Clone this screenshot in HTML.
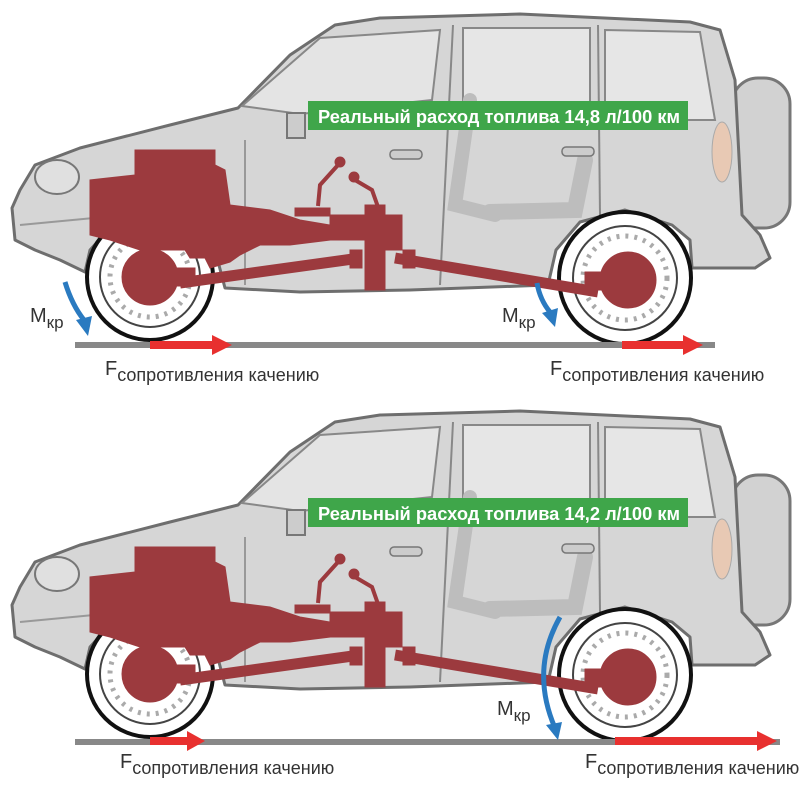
<!DOCTYPE html>
<html><head><meta charset="utf-8"><style>
body{margin:0;background:#fff}
svg{display:block}
.lbl{font-family:"Liberation Sans Narrow","Liberation Sans",sans-serif;fill:#333}
.gt{font-family:"Liberation Sans Narrow","Liberation Sans",sans-serif;font-weight:bold;fill:#fff;font-size:18px}
</style></head><body>
<svg width="810" height="790" viewBox="0 0 810 790" xmlns="http://www.w3.org/2000/svg">
<defs>
<g id="car">
 <rect x="732" y="78" width="58" height="150" rx="26" fill="#d2d2d2" stroke="#777" stroke-width="3"/>
 <path d="M12,208 L20,190 L35,165 L80,148 L170,125 L238,108 L290,55 L335,25 L380,18 L520,14 L690,22 L720,30 L735,80 L742,215 L760,235 L770,258 L755,268 L692,268 L690,240 L672,225 L625,210 L580,222 L556,250 L548,285 L410,290 L300,292 L225,288 L215,250 L195,228 L150,218 L110,228 L90,250 L85,272 L60,260 L35,250 L15,240 Z" fill="#d6d6d6" stroke="#6e6e6e" stroke-width="3" stroke-linejoin="round"/>
 <path d="M242,106 L320,38 L440,30 L432,100 L300,114 Z" fill="#e4e4e4" stroke="#888" stroke-width="2"/>
 <path d="M463,28 L590,28 L590,120 L463,128 Z" fill="#e6e6e6" stroke="#888" stroke-width="2"/>
 <path d="M605,30 L700,32 L715,120 L605,120 Z" fill="#e6e6e6" stroke="#888" stroke-width="2"/>
 <line x1="453" y1="25" x2="440" y2="285" stroke="#888" stroke-width="2"/>
 <line x1="598" y1="25" x2="600" y2="215" stroke="#888" stroke-width="2"/>
 <line x1="245" y1="140" x2="245" y2="285" stroke="#999" stroke-width="2"/>
 <path d="M20,225 L230,205" stroke="#999" stroke-width="2" fill="none"/>
 <path d="M470,100 L455,205 L495,215" stroke="#bdbdbd" stroke-width="14" fill="none" stroke-linecap="round"/>
 <path d="M585,160 L575,210 L490,212" stroke="#bdbdbd" stroke-width="16" fill="none" stroke-linecap="round"/>
 <ellipse cx="57" cy="177" rx="22" ry="17" fill="#e0e0e0" stroke="#777" stroke-width="2"/>
 <ellipse cx="722" cy="152" rx="10" ry="30" fill="#e8c9b4" stroke="#aaa"/>
 <rect x="287" y="113" width="18" height="25" fill="#ccc" stroke="#777" stroke-width="2"/>
 <rect x="390" y="150" width="32" height="9" rx="4" fill="#ccc" stroke="#777" stroke-width="1.5"/>
 <rect x="562" y="147" width="32" height="9" rx="4" fill="#ccc" stroke="#777" stroke-width="1.5"/>
 <circle cx="150" cy="277" r="63" fill="#fff" stroke="#111" stroke-width="4"/>
 <circle cx="150" cy="277" r="50" fill="#fff" stroke="#444" stroke-width="2"/>
 <circle cx="150" cy="277" r="40" fill="none" stroke="#aaa" stroke-width="5" stroke-dasharray="3 6"/>
 <circle cx="625" cy="278" r="66" fill="#fff" stroke="#111" stroke-width="4"/>
 <circle cx="625" cy="278" r="52" fill="#fff" stroke="#444" stroke-width="2"/>
 <circle cx="625" cy="278" r="42" fill="none" stroke="#aaa" stroke-width="5" stroke-dasharray="3 6"/>
 <g fill="#9c3a3e" stroke="#9c3a3e">
  <path d="M135,150 L215,150 L215,165 L225,170 L230,205 L270,210 L300,220 L330,225 L330,240 L290,245 L260,245 L240,255 L230,262 L210,268 L205,258 L190,258 L185,250 L140,250 L125,245 L110,240 L90,235 L90,180 L135,175 Z"/>
  <rect x="295" y="208" width="35" height="8"/>
  <rect x="330" y="215" width="40" height="25"/>
  <rect x="365" y="205" width="20" height="85"/>
  <rect x="380" y="215" width="22" height="35"/>
  <path d="M318,206 L320,185 L338,165" fill="none" stroke-width="4"/>
  <circle cx="340" cy="162" r="5"/>
  <path d="M378,207 L372,190 L355,180" fill="none" stroke-width="4"/>
  <circle cx="354" cy="177" r="5"/>
  <path d="M360,258 L180,283" stroke-width="11"/>
  <path d="M395,258 L598,292" stroke-width="11"/>
  <rect x="350" y="250" width="12" height="18"/>
  <rect x="403" y="250" width="12" height="18"/>
  <circle cx="150" cy="277" r="28"/>
  <rect x="165" y="268" width="30" height="18"/>
  <circle cx="628" cy="280" r="28"/>
  <rect x="585" y="272" width="30" height="18"/>
 </g>
 <rect x="75" y="342" width="640" height="6" fill="#888"/>
</g>
</defs>

<use href="#car"/>
<use href="#car" y="397"/>
<rect x="75" y="739" width="705" height="6" fill="#888"/>

<rect x="308" y="101" width="380" height="29" fill="#3fa64a"/>
<text class="gt" x="318" y="123" textLength="362" lengthAdjust="spacingAndGlyphs">Реальный расход топлива 14,8 л/100 км</text>
<rect x="308" y="498" width="380" height="29" fill="#3fa64a"/>
<text class="gt" x="318" y="520" textLength="362" lengthAdjust="spacingAndGlyphs">Реальный расход топлива 14,2 л/100 км</text>

<g fill="#e8302f">
 <rect x="150" y="341" width="65" height="8"/><polygon points="212,335 232,345 212,355"/>
 <rect x="622" y="341" width="65" height="8"/><polygon points="683,335 703,345 683,355"/>
 <rect x="150" y="737" width="40" height="8"/><polygon points="187,731 205,741 187,751"/>
 <rect x="615" y="737" width="145" height="8"/><polygon points="757,731 777,741 757,751"/>
</g>
<g stroke="#2a7ac0" stroke-width="5" fill="none">
 <path d="M65,282 Q72,305 84,320"/>
 <path d="M537,283 Q540,300 550,312"/>
 <path d="M560,617 Q530,670 555,728"/>
</g>
<g fill="#2a7ac0">
 <polygon points="76,320 92,316 88,336"/>
 <polygon points="542,313 558,308 555,327"/>
 <polygon points="546,725 562,722 558,740"/>
</g>

<g class="lbl">
 <text x="30" y="322" font-size="20">M<tspan font-size="17" dy="6">кр</tspan></text>
 <text x="502" y="322" font-size="20">M<tspan font-size="17" dy="6">кр</tspan></text>
 <text x="497" y="715" font-size="20">M<tspan font-size="17" dy="6">кр</tspan></text>
 <text x="105" y="375" font-size="20">F<tspan font-size="18" dy="6">сопротивления качению</tspan></text>
 <text x="550" y="375" font-size="20">F<tspan font-size="18" dy="6">сопротивления качению</tspan></text>
 <text x="120" y="768" font-size="20">F<tspan font-size="18" dy="6">сопротивления качению</tspan></text>
 <text x="585" y="768" font-size="20">F<tspan font-size="18" dy="6">сопротивления качению</tspan></text>
</g>
</svg>
</body></html>
